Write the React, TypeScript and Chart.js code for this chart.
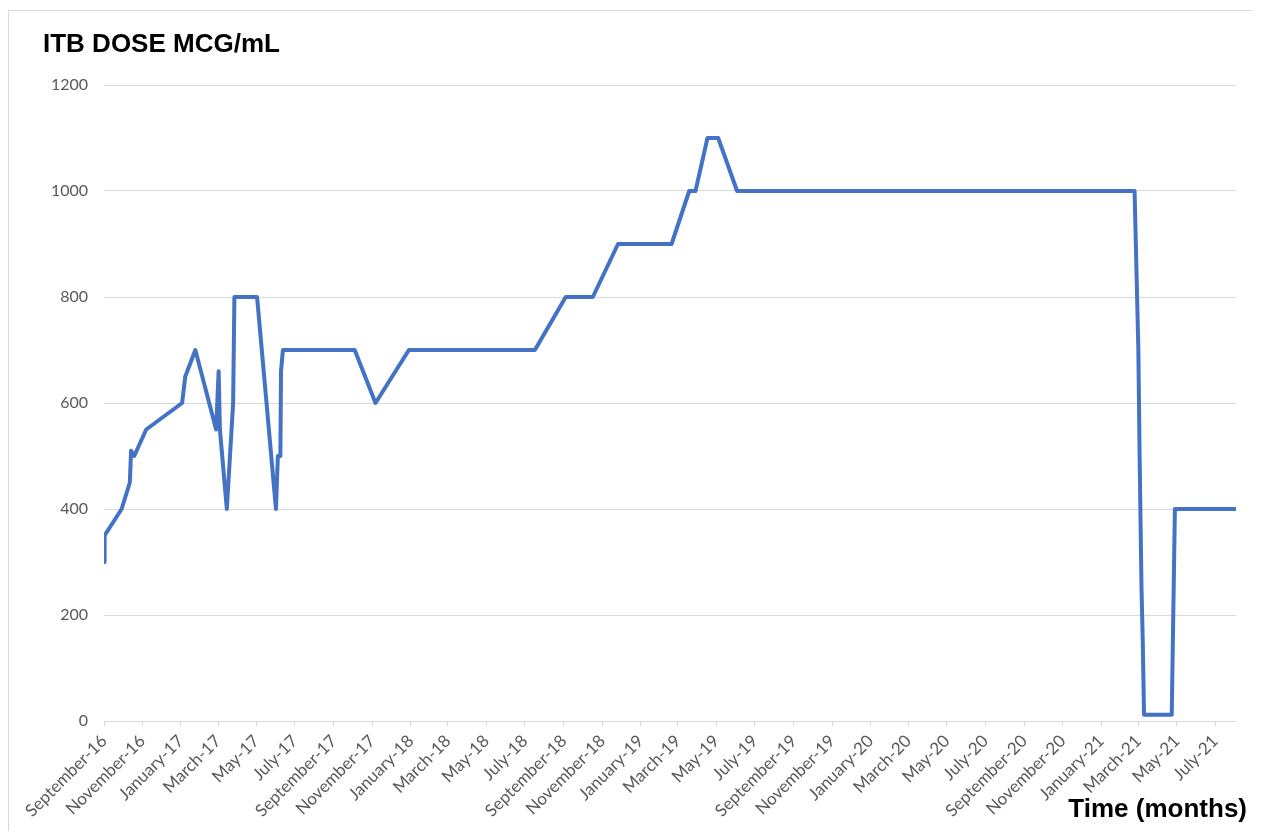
import React, { useEffect, useRef } from "react";
import { Chart, registerables } from "chart.js";

Chart.register(...registerables);

const CHART_TITLE = "ITB DOSE MCG/mL";
const X_TITLE = "Time (months)";

const DOSE_DATES = [
  "2016-09-01", "2016-09-02", "2016-09-29", "2016-10-12", "2016-10-14",
  "2016-10-19", "2016-11-07", "2017-01-03", "2017-01-08", "2017-01-24",
  "2017-02-26", "2017-03-02", "2017-03-04", "2017-03-15", "2017-03-25",
  "2017-03-27", "2017-05-02", "2017-06-01", "2017-06-04", "2017-06-08",
  "2017-06-09", "2017-06-12", "2017-10-04", "2017-11-06", "2017-12-29",
  "2018-07-17", "2018-09-04", "2018-10-17", "2018-11-26", "2019-02-19",
  "2019-03-19", "2019-03-29", "2019-04-17", "2019-05-04", "2019-06-03",
  "2021-02-23", "2021-03-01", "2021-03-03", "2021-03-06", "2021-03-08",
  "2021-03-10", "2021-04-23", "2021-04-28", "2021-08-03",
];

const DOSE_VALUES = [
  300, 350, 400, 450, 510,
  500, 550, 600, 650, 700,
  550, 660, 550, 400, 600,
  800, 800, 400, 500, 500,
  660, 700, 700, 600, 700,
  700, 800, 800, 900, 900,
  1000, 1000, 1100, 1100, 1000,
  1000, 700, 500, 250, 150,
  12, 12, 400, 400,
];

const TICK_LABELS = [
  "September-16", "November-16", "January-17", "March-17", "May-17", "July-17",
  "September-17", "November-17", "January-18", "March-18", "May-18", "July-18",
  "September-18", "November-18", "January-19", "March-19", "May-19", "July-19",
  "September-19", "November-19", "January-20", "March-20", "May-20", "July-20",
  "September-20", "November-20", "January-21", "March-21", "May-21", "July-21",
];

const Y_MIN = 0;
const Y_MAX = 1200;
const Y_STEP = 200;
const AXIS_START = "2016-09-01";
const AXIS_END = "2021-08-03";

const MONTH_NAMES = [
  "January", "February", "March", "April", "May", "June",
  "July", "August", "September", "October", "November", "December",
];

const DAY_MS = 86400000;
const dateMs = (s: string) => {
  const [y, m, d] = s.split("-").map(Number);
  return Date.UTC(y, m - 1, d);
};
const ORIGIN = dateMs(AXIS_START);
const toDay = (s: string) => (dateMs(s) - ORIGIN) / DAY_MS;
const labelDay = (label: string) => {
  const [name, yy] = label.split("-");
  return (Date.UTC(2000 + Number(yy), MONTH_NAMES.indexOf(name), 1) - ORIGIN) / DAY_MS;
};

document.documentElement.style.overflow = "hidden";
document.body.style.overflow = "hidden";

const textPlugin = {
  id: "extraTexts",
  afterDraw(chart: any) {
    const ctx = chart.ctx;
    ctx.save();
    ctx.fillStyle = "#000000";
    ctx.font = "bold 26px 'Liberation Sans', Arial, sans-serif";
    ctx.textBaseline = "alphabetic";
    ctx.textAlign = "left";
    ctx.fillText(CHART_TITLE, 34, 41);
    ctx.textAlign = "right";
    ctx.fillText(X_TITLE, 1238, 806);
    ctx.restore();
  },
};

export default function App() {
  const canvasRef = useRef<HTMLCanvasElement | null>(null);

  useEffect(() => {
    if (!canvasRef.current) return;
    const chart = new Chart(canvasRef.current, {
      type: "line",
      data: {
        datasets: [
          {
            data: DOSE_DATES.map((d, i) => ({ x: toDay(d), y: DOSE_VALUES[i] })),
            borderColor: "#4472C4",
            borderWidth: 4,
            pointRadius: 0,
            tension: 0,
            fill: false,
            borderJoinStyle: "round",
          },
        ],
      },
      options: {
        responsive: false,
        animation: false,
        layout: { padding: { top: 74, right: 17, left: 0, bottom: 0 } },
        plugins: {
          legend: { display: false },
          tooltip: { enabled: false },
          title: { display: false },
        },
        scales: {
          x: {
            type: "linear",
            min: 0,
            max: toDay(AXIS_END),
            afterBuildTicks: (scale: any) => {
              scale.ticks = TICK_LABELS.map((l) => ({ value: labelDay(l) }));
            },
            afterFit: (scale: any) => {
              scale.height = 112;
            },
            ticks: {
              autoSkip: false,
              minRotation: 45,
              maxRotation: 45,
              color: "#595959",
              font: { family: "Lato", size: 17 },
              padding: 5,
              callback: (_v: any, i: number) => TICK_LABELS[i],
            },
            grid: {
              drawOnChartArea: false,
              drawTicks: true,
              tickLength: 5,
              color: "#d9d9d9",
            },
            border: { display: true, color: "#d9d9d9" },
          },
          y: {
            min: Y_MIN,
            max: Y_MAX,
            afterFit: (scale: any) => {
              scale.width = 95;
            },
            ticks: {
              stepSize: Y_STEP,
              color: "#595959",
              font: { family: "Lato", size: 16 },
              padding: 16,
              callback: (v: any) => String(v),
            },
            grid: { color: "#d9d9d9", drawTicks: false },
            border: { display: false },
          },
        },
      },
      plugins: [textPlugin],
    } as any);
    return () => chart.destroy();
  }, []);

  return (
    <div
      style={{
        position: "relative",
        top: 2,
        width: 1244,
        height: 822,
        borderTop: "1px solid #d9d9d9",
        borderLeft: "1px solid #d9d9d9",
      }}
    >
      <canvas ref={canvasRef} width={1244} height={822} style={{ display: "block", width: 1244, height: 822 }} />
    </div>
  );
}
